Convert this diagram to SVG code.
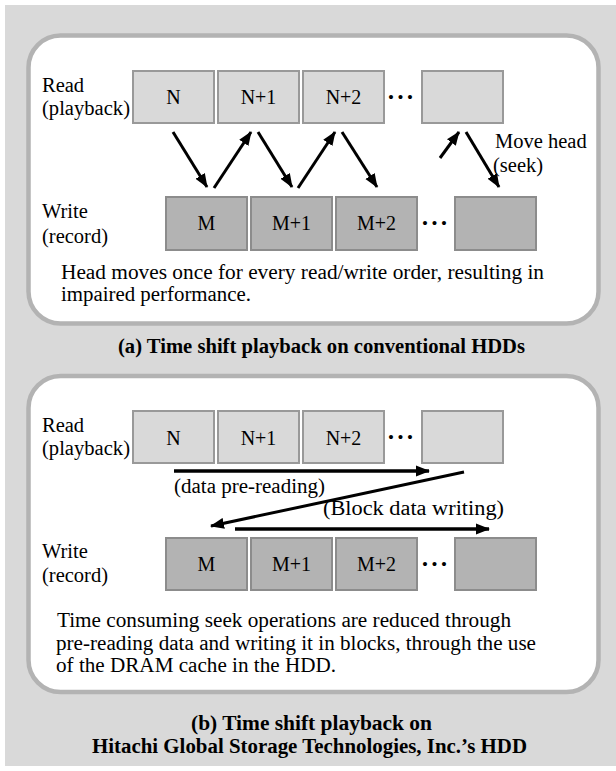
<svg xmlns="http://www.w3.org/2000/svg" width="616" height="771" viewBox="0 0 616 771">
<defs>
<style>
text{font-family:"Liberation Serif","Times New Roman",serif;fill:#000}
.t{font-size:20.5px}
.c{font-size:20px;text-anchor:middle}
.b{font-size:20.5px;font-weight:bold}
.d{font-size:17px;letter-spacing:3.5px}
.panel{fill:#fff;stroke:#b3b3b3;stroke-width:4.5}
.rb{fill:#d9d9d9;stroke:#999;stroke-width:2}
.wb{fill:#b3b3b3;stroke:#8c8c8c;stroke-width:2}
.ar{fill:none;stroke:#000;stroke-width:3;marker-end:url(#ah)}
.ar2{fill:none;stroke:#000;stroke-width:3.5;marker-end:url(#ah)}
</style>
<marker id="ah" markerUnits="userSpaceOnUse" markerWidth="14" markerHeight="12" refX="13" refY="5.5" orient="auto" viewBox="0 0 14 11">
<path d="M0,0 L14,5.5 L0,11 z" fill="#000"/>
</marker>
</defs>
<rect x="5" y="5" width="611" height="761" fill="#d9d9d9"/>

<g id="panel-a">
<rect class="panel" x="28.5" y="35.5" width="570" height="288" rx="32" ry="32"/>
</g>
<g id="label-a-read"><text class="t" x="42" y="92">Read</text><text class="t" x="42" y="115" textLength="88" lengthAdjust="spacingAndGlyphs">(playback)</text></g>
<g id="a-N"><rect class="rb" x="133" y="71" width="81" height="52"/><text class="c" x="173.5" y="104">N</text></g>
<g id="a-N1"><rect class="rb" x="218" y="71" width="81" height="52"/><text class="c" x="258.5" y="104">N+1</text></g>
<g id="a-N2"><rect class="rb" x="303" y="71" width="81" height="52"/><text class="c" x="343.5" y="104">N+2</text></g>
<g id="a-dots-r"><text class="d" x="388" y="103">•••</text></g>
<g id="a-Nx"><rect class="rb" x="422" y="71" width="81" height="52"/></g>
<g id="label-a-write"><text class="t" x="42" y="218">Write</text><text class="t" x="42" y="243">(record)</text></g>
<g id="a-M"><rect class="wb" x="166" y="197" width="81" height="53"/><text class="c" x="206.5" y="230">M</text></g>
<g id="a-M1"><rect class="wb" x="251" y="197" width="81" height="53"/><text class="c" x="291.5" y="230">M+1</text></g>
<g id="a-M2"><rect class="wb" x="336" y="197" width="81" height="53"/><text class="c" x="376.5" y="230">M+2</text></g>
<g id="a-dots-w"><text class="d" x="422" y="229">•••</text></g>
<g id="a-Mx"><rect class="wb" x="455" y="197" width="81" height="53"/></g>
<g id="a-move"><text class="t" x="495" y="148">Move head</text><text class="t" x="493" y="172">(seek)</text></g>
<g id="a-note"><text class="t" x="61" y="279" textLength="483" lengthAdjust="spacingAndGlyphs">Head moves once for every read/write order, resulting in</text><text class="t" x="61" y="301" textLength="190" lengthAdjust="spacingAndGlyphs">impaired performance.</text></g>
<g id="a-caption"><text class="b" x="118" y="353" textLength="407" lengthAdjust="spacingAndGlyphs">(a) Time shift playback on conventional HDDs</text></g>

<g id="panel-b">
<rect class="panel" x="28.5" y="376" width="570" height="316" rx="32" ry="32"/>
</g>
<g id="label-b-read"><text class="t" x="42" y="432">Read</text><text class="t" x="42" y="455" textLength="88" lengthAdjust="spacingAndGlyphs">(playback)</text></g>
<g id="b-N"><rect class="rb" x="133" y="411" width="81" height="52"/><text class="c" x="173.5" y="445">N</text></g>
<g id="b-N1"><rect class="rb" x="218" y="411" width="81" height="52"/><text class="c" x="258.5" y="445">N+1</text></g>
<g id="b-N2"><rect class="rb" x="303" y="411" width="81" height="52"/><text class="c" x="343.5" y="445">N+2</text></g>
<g id="b-dots-r"><text class="d" x="388" y="443">•••</text></g>
<g id="b-Nx"><rect class="rb" x="422" y="411" width="81" height="52"/></g>
<g id="label-b-write"><text class="t" x="42" y="558">Write</text><text class="t" x="42" y="582">(record)</text></g>
<g id="b-M"><rect class="wb" x="166" y="538" width="81" height="52"/><text class="c" x="206.5" y="571">M</text></g>
<g id="b-M1"><rect class="wb" x="251" y="538" width="81" height="52"/><text class="c" x="291.5" y="571">M+1</text></g>
<g id="b-M2"><rect class="wb" x="336" y="538" width="81" height="52"/><text class="c" x="376.5" y="571">M+2</text></g>
<g id="b-dots-w"><text class="d" x="422" y="570">•••</text></g>
<g id="b-Mx"><rect class="wb" x="455" y="538" width="81" height="52"/></g>
<g id="b-labels"><text class="t" x="174" y="493" textLength="151" lengthAdjust="spacingAndGlyphs">(data pre-reading)</text><text class="t" x="323" y="515" textLength="181" lengthAdjust="spacingAndGlyphs">(Block data writing)</text></g>
<g id="b-note"><text class="t" x="57" y="627" textLength="454" lengthAdjust="spacingAndGlyphs">Time consuming seek operations are reduced through</text><text class="t" x="56" y="650" textLength="480" lengthAdjust="spacingAndGlyphs">pre-reading data and writing it in blocks, through the use</text><text class="t" x="56" y="672" textLength="280" lengthAdjust="spacingAndGlyphs">of the DRAM cache in the HDD.</text></g>
<g id="b-caption"><text class="b" x="191" y="730" textLength="241" lengthAdjust="spacingAndGlyphs">(b) Time shift playback on</text><text class="b" x="92" y="753" textLength="435" lengthAdjust="spacingAndGlyphs">Hitachi Global Storage Technologies, Inc.’s HDD</text></g>

<g id="connectors">
<path class="ar" d="M173,132 L207,187"/>
<path class="ar" d="M214,188 L251,132"/>
<path class="ar" d="M258,132 L292,187"/>
<path class="ar" d="M298,188 L335,132"/>
<path class="ar" d="M342,132 L377,187"/>
<path class="ar" d="M440,158 L459,132"/>
<path class="ar" d="M466,132 L499,187"/>
<path class="ar2" d="M174,471 L429,471"/>
<path class="ar" d="M464,472 L211,526"/>
<path class="ar2" d="M235,529 L489,529"/>
</g>
</svg>
